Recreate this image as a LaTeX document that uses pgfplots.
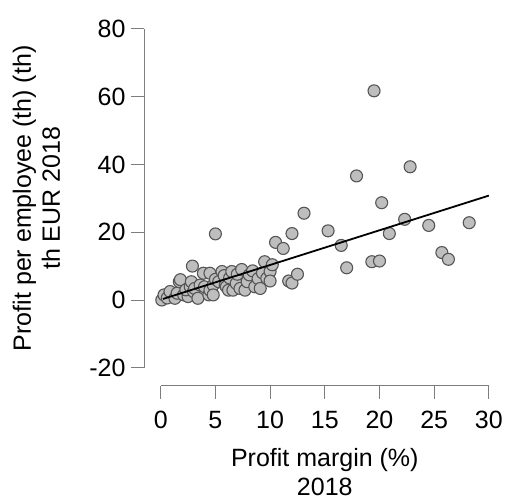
\documentclass[border=0pt]{standalone}
\usepackage{pgfplots}
\pgfplotsset{compat=1.18}
\usepackage{fontspec}
\setmainfont{Liberation Sans}
\definecolor{ptfill}{RGB}{190,190,190}
\definecolor{ptdraw}{RGB}{85,85,85}
\definecolor{axgray}{RGB}{125,125,125}
\begin{document}
\begin{tikzpicture}
\begin{axis}[
  set layers=standard,
  scale only axis,
  width=361.6bp, height=374.8bp,
  xmin=-1.527, xmax=31.527,
  ymin=-25.28, ymax=85.28,
  axis x line*=bottom, axis y line*=left,
  axis line style={draw=none},
  xtick={0,5,...,30}, ytick={-20,0,...,80},
  tick align=outside,
  major tick length=13bp,
  tick style={axgray, line width=0.9bp},
  /pgf/number format/assume math mode=true,
  ticklabel style={font=\fontsize{25bp}{29bp}\selectfont},
  xticklabel style={yshift=-9bp},
  yticklabel style={xshift=-2bp},
  label style={font=\fontsize{25bp}{29bp}\selectfont, align=center},
  xlabel={Profit margin (\%)\\2018},
  ylabel={Profit per employee (th) (th)\\th EUR 2018},
  x label style={at={(axis description cs:0.5,-0.2313)}, anchor=center},
  y label style={at={(axis description cs:-0.2973,0.5)}, anchor=center, rotate=0},
  clip=false,
]
\draw[axgray, line width=0.9bp] (axis cs:0,-25.28) -- (axis cs:30,-25.28);
\draw[axgray, line width=0.9bp] (axis cs:-1.527,-20) -- (axis cs:-1.527,80);
\addplot[only marks, mark=*, mark size=6bp,
  mark options={fill=ptfill, draw=ptdraw, line width=1.1bp}] coordinates {
(0.1,0) (0.3,1.5) (0.6,0.6) (0.85,2.5) (1.3,0.5) (1.5,2.0) (1.7,5.4) (1.8,6.0)
(2.1,1.5) (2.5,1.0) (2.3,3.0) (2.7,3.9) (2.8,5.4) (2.9,10.0) (3.0,2.5) (3.1,3.4)
(3.4,0.5) (3.6,4.4) (3.9,7.9) (4.0,3.9) (4.4,1.5) (4.5,2.9) (4.5,7.9) (4.8,4.4)
(4.8,1.5) (5.0,19.5) (5.0,6.1) (5.3,5.4) (5.6,8.4) (5.8,7.2) (5.9,4.4) (6.0,3.9) (6.2,2.9)
(6.3,6.5) (6.5,8.4) (6.6,2.9) (6.9,4.9) (7.0,7.6) (7.25,3.4) (7.4,9.0) (7.7,2.9) (7.9,5.4)
(8.1,7.4) (8.4,8.6) (8.6,3.9) (8.9,6.3) (9.1,3.4) (9.3,8.0) (9.5,11.3) (9.7,6.4) (10.0,8.4) (10.0,5.6)
(10.2,10.4) (10.5,17.0) (11.2,15.2) (11.7,5.6) (12.0,5.0) (12.0,19.6) (12.5,7.6) (13.1,25.6)
(15.3,20.4) (16.5,16.1) (17.0,9.5) (17.9,36.6) (19.3,11.3) (19.5,61.7) (20.0,11.5)
(20.2,28.7) (20.9,19.6) (22.3,23.8) (22.8,39.3) (24.5,22.0) (25.7,14.0) (26.3,12.0)
(28.2,22.8)
};
\addplot[black, line width=1.8bp, no marks, on layer=axis foreground] coordinates {(0.2,0.3) (30,30.8)};
\end{axis}
\path (-144bp,-114.3bp) rectangle (363bp,385.7bp);
\end{tikzpicture}
\end{document}
